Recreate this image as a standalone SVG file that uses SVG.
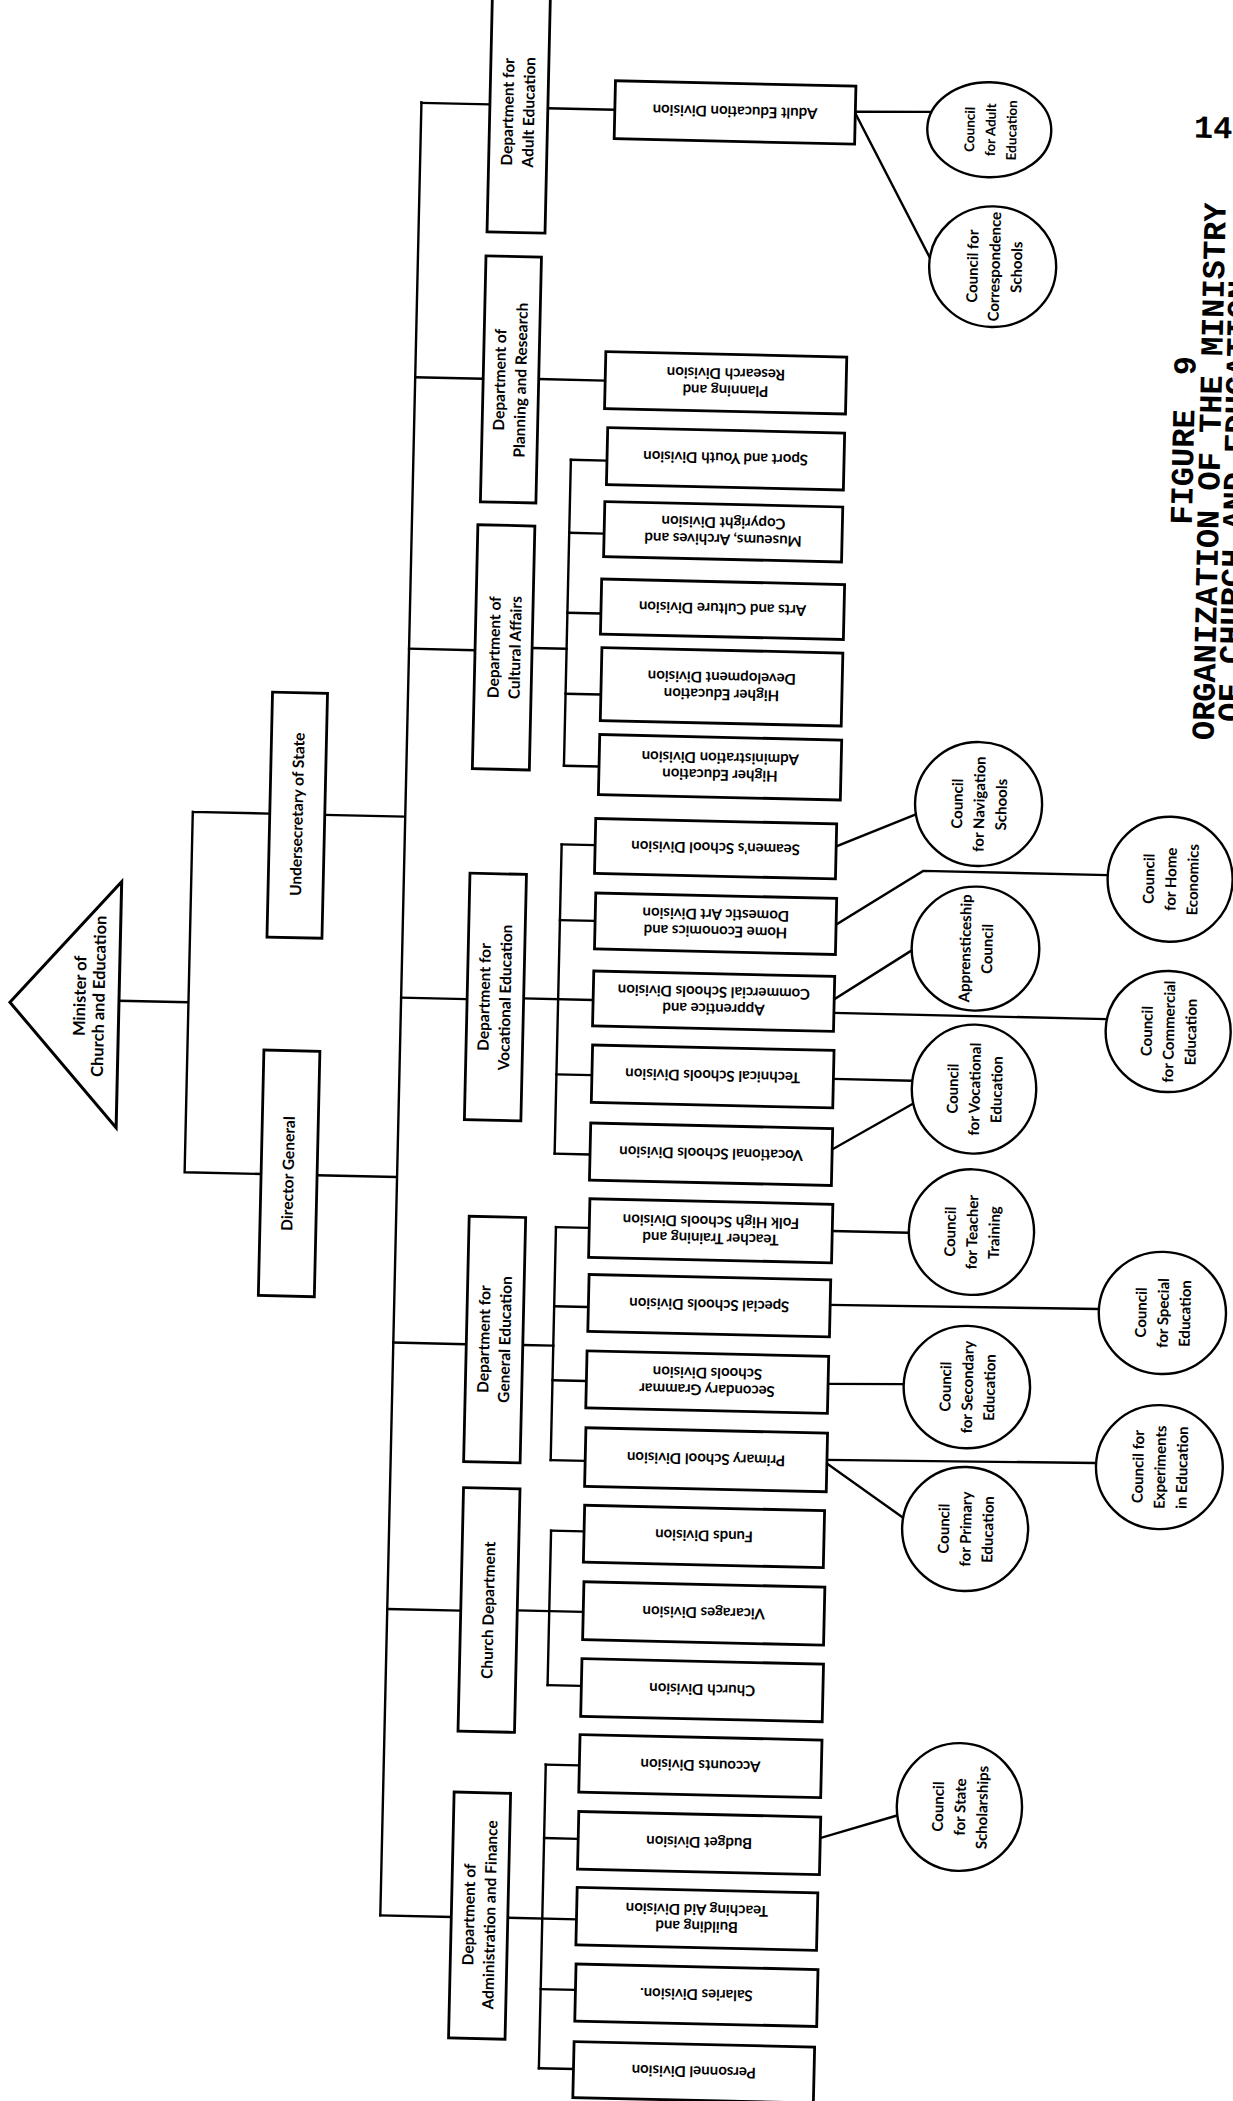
<svg xmlns="http://www.w3.org/2000/svg" width="1233" height="2101" viewBox="0 0 1233 2101">
<style>
.box{fill:#fff;stroke:#000;stroke-width:2.8}
.ell{fill:#fff;stroke:#000;stroke-width:2.4}
.ln{fill:none;stroke:#000;stroke-width:2.4;stroke-linecap:square;stroke-linejoin:miter}
.t{font-family:Lato,"Open Sans","DejaVu Sans",sans-serif;font-weight:700;fill:#000;text-anchor:middle;dominant-baseline:central}
.dp{font-size:15.5px}
.dv{font-size:15px}
.cc{font-size:15px}
.ca{font-size:13.5px}
.mn{font-size:16.5px}
.tt{font-family:"Liberation Mono","DejaVu Sans Mono",monospace;font-weight:700;font-size:32px;fill:#000;text-anchor:middle}
</style>
<rect width="1233" height="2101" fill="#fff"/>
<g transform="rotate(1.3 616 1050)">
<g id="connectors">
<path class="ln" d="M118,1012H187.5 M187.5,821.5V1182 M187.5,821.5H264.5 M187.5,1182H264 M319.5,821.5H400 M320,1182H400 M400,107V1920.5"/>
<path class="ln" d="M400,107.5H468.5 M400,382H468 M400,653.5H466 M400,1002.5H465.5 M400,1347.5H473 M400,1614H473.5 M400,1920.5H471"/>
<path class="ln" d="M526.5,110H593.5 M523.5,381H590 M523,650H557.5 M522.5,1000.5H592 M529.5,1347H560 M530,1612.5H596 M527.5,1920H596.2"/>
<path class="ln" d="M557.5,461V767 M557,845.7V1155 M560,1228.4V1461.5 M562,1532V1686.5 M562,1766V2069.7"/>
<path class="ln" d="M557.5,461H593.6 M557.5,534H592.4 M557.5,614H591 M557.5,695H592.8 M557.5,767H592.6 M557,845.7H590.5 M557,921.4H592.2 M557,1075.7H592.5 M557,1155H592.4 M560,1228.4H593.3 M560,1307.6H594.2 M560,1381.6H593.9 M560,1461.5H594.5 M562,1532H595 M562,1686.5H595.8 M562,1766H595.6 M562,1839.5H596.1 M562,1990.6H596.8 M562,2069.7H596.6"/>
<path class="ln" d="M834,106.4L910,105 M834,108L911,249.4 M831.5,841.4L910.4,807.6 M833.3,919.6L919,864H1104 M833,994.3L909.4,943.7 M833,1008H1106 M834,1074H913 M834.4,1144.5L914,1097 M836.3,1226H913 M835.9,1300L1104.6,1298 M835.6,1379L911.2,1377.5 M836.2,1455L1105.3,1452 M836.2,1458.7L912.6,1510.4 M838,1833.2L914,1809"/>
</g>

<g id="minister">
<polygon points="9,1016 118,893 118,1139" fill="#fff" stroke="#000" stroke-width="3" stroke-linejoin="miter"/>
<g transform="translate(88,1008) rotate(-90)"><text class="t mn" y="-9.5">Minister of</text><text class="t mn" y="9.5">Church and Education</text></g>
</g>
<g id="undersecretary"><rect class="box" x="264.5" y="700" width="55" height="245"/><g transform="translate(291.5,821.5) rotate(-90)"><text class="t dp">Undersecretary of State</text></g></g>
<g id="director-general"><rect class="box" x="264" y="1058" width="56" height="245.5"/><g transform="translate(290.5,1181) rotate(-90)"><text class="t dp">Director General</text></g></g>

<g id="dept-adult"><rect class="box" x="468.5" y="-30" width="58" height="265"/><g transform="translate(496.5,114.5) rotate(-90)"><text class="t dp" y="-10.5">Department for</text><text class="t dp" y="10.5">Adult Education</text></g></g>
<g id="dept-planning"><rect class="box" x="468" y="259" width="55.5" height="246"/><g transform="translate(494.5,382.5) rotate(-90)"><text class="t dp" y="-10.5">Department of</text><text class="t dp" y="10.5">Planning and Research</text></g></g>
<g id="dept-cultural"><rect class="box" x="466" y="528" width="57" height="244"/><g transform="translate(495,650) rotate(-90)"><text class="t dp" y="-10.5">Department of</text><text class="t dp" y="10.5">Cultural Affairs</text></g></g>
<g id="dept-vocational"><rect class="box" x="466" y="876.5" width="56.5" height="246.5"/><g transform="translate(493,1000) rotate(-90)"><text class="t dp" y="-10.5">Department for</text><text class="t dp" y="10.5">Vocational Education</text></g></g>
<g id="dept-general"><rect class="box" x="473" y="1219.5" width="56.5" height="245.5"/><g transform="translate(500.5,1342) rotate(-90)"><text class="t dp" y="-10.5">Department for</text><text class="t dp" y="10.5">General Education</text></g></g>
<g id="dept-church"><rect class="box" x="473.5" y="1491" width="56.5" height="243.5"/><g transform="translate(500.5,1613) rotate(-90)"><text class="t dp">Church Department</text></g></g>
<g id="dept-admin"><rect class="box" x="471" y="1795.5" width="56.5" height="246"/><g transform="translate(498.5,1917.5) rotate(-90)"><text class="t dp" y="-10.5">Department of</text><text class="t dp" y="10.5">Administration and Finance</text></g></g>

<g id="div-adult"><rect class="box" x="593.5" y="81" width="240.5" height="58"/><g transform="translate(713.7,110) rotate(180)"><text class="t dv">Adult Education Division</text></g></g>
<g id="div-planning"><rect class="box" x="590" y="352" width="241" height="57"/><g transform="translate(710.5,380.5) rotate(180)"><text class="t dv" y="-8.5">Planning and</text><text class="t dv" y="8.5">Research Division</text></g></g>
<g id="div-sport"><rect class="box" x="593.6" y="428" width="237" height="57"/><g transform="translate(712.1,456.5) rotate(180)"><text class="t dv">Sport and Youth Division</text></g></g>
<g id="div-museums"><rect class="box" x="592.4" y="502" width="238" height="55"/><g transform="translate(711.4,529.5) rotate(180)"><text class="t dv" y="-8.5">Museums, Archives and</text><text class="t dv" y="8.5">Copyright Division</text></g></g>
<g id="div-arts"><rect class="box" x="591" y="579.5" width="243" height="55"/><g transform="translate(712.5,607) rotate(180)"><text class="t dv">Arts and Culture Division</text></g></g>
<g id="div-hed"><rect class="box" x="592.8" y="648" width="241" height="73"/><g transform="translate(713.3,684.5) rotate(180)"><text class="t dv" y="-8.5">Higher Education</text><text class="t dv" y="8.5">Development Division</text></g></g>
<g id="div-hea"><rect class="box" x="592.6" y="735" width="242" height="60"/><g transform="translate(713.6,765) rotate(180)"><text class="t dv" y="-8.5">Higher Education</text><text class="t dv" y="8.5">Administration Division</text></g></g>
<g id="div-seamen"><rect class="box" x="590.5" y="819" width="241" height="55"/><g transform="translate(711,846.5) rotate(180)"><text class="t dv">Seamen's School Division</text></g></g>
<g id="div-home"><rect class="box" x="592.2" y="893.5" width="241" height="56"/><g transform="translate(712.7,921.5) rotate(180)"><text class="t dv" y="-8.5">Home Economics and</text><text class="t dv" y="8.5">Domestic Art Division</text></g></g>
<g id="div-apprentice"><rect class="box" x="592" y="971.5" width="241" height="55"/><g transform="translate(712.5,999) rotate(180)"><text class="t dv" y="-8.5">Apprentice and</text><text class="t dv" y="8.5">Commercial Schools Division</text></g></g>
<g id="div-technical"><rect class="box" x="592.5" y="1045.5" width="241.5" height="57.5"/><g transform="translate(713.2,1074.2) rotate(180)"><text class="t dv">Technical Schools Division</text></g></g>
<g id="div-vocational"><rect class="box" x="592.4" y="1123.6" width="242" height="57"/><g transform="translate(713.4,1152.1) rotate(180)"><text class="t dv">Vocational Schools Division</text></g></g>
<g id="div-folk"><rect class="box" x="593.3" y="1199.3" width="243" height="58.6"/><g transform="translate(714.8,1228.6) rotate(180)"><text class="t dv" y="-8.5">Teacher Training and</text><text class="t dv" y="8.5">Folk High Schools Division</text></g></g>
<g id="div-special"><rect class="box" x="594.2" y="1275" width="241.7" height="57"/><g transform="translate(715,1303.5) rotate(180)"><text class="t dv">Special Schools Division</text></g></g>
<g id="div-secondary"><rect class="box" x="593.9" y="1351.5" width="241.7" height="57"/><g transform="translate(714.7,1380) rotate(180)"><text class="t dv" y="-8.5">Secondary Grammar</text><text class="t dv" y="8.5">Schools Division</text></g></g>
<g id="div-primary"><rect class="box" x="594.5" y="1428.3" width="241.7" height="58.6"/><g transform="translate(715.3,1457.6) rotate(180)"><text class="t dv">Primary School Division</text></g></g>
<g id="div-funds"><rect class="box" x="595" y="1505.8" width="240" height="57"/><g transform="translate(715,1534.3) rotate(180)"><text class="t dv">Funds Division</text></g></g>
<g id="div-vicarages"><rect class="box" x="596" y="1582.3" width="241" height="58"/><g transform="translate(716.5,1611.3) rotate(180)"><text class="t dv">Vicarages Division</text></g></g>
<g id="div-church"><rect class="box" x="595.8" y="1659.3" width="241.6" height="57.6"/><g transform="translate(716.6,1688.1) rotate(180)"><text class="t dv">Church Division</text></g></g>
<g id="div-accounts"><rect class="box" x="595.6" y="1735.2" width="242" height="57.6"/><g transform="translate(716.6,1764) rotate(180)"><text class="t dv">Accounts Division</text></g></g>
<g id="div-budget"><rect class="box" x="596.1" y="1812.2" width="242" height="57.6"/><g transform="translate(717.1,1841) rotate(180)"><text class="t dv">Budget Division</text></g></g>
<g id="div-building"><rect class="box" x="596.2" y="1888" width="240.7" height="57.6"/><g transform="translate(716.5,1916.8) rotate(180)"><text class="t dv" y="-8.5">Building and</text><text class="t dv" y="8.5">Teaching Aid Division</text></g></g>
<g id="div-salaries"><rect class="box" x="596.8" y="1964.7" width="242" height="57"/><g transform="translate(717.8,1993.2) rotate(180)"><text class="t dv">Salaries Division.</text></g></g>
<g id="div-personnel"><rect class="box" x="596.6" y="2042.3" width="240.6" height="56"/><g transform="translate(716.9,2070.3) rotate(180)"><text class="t dv">Personnel Division</text></g></g>

<g id="c-adult"><ellipse class="ell" cx="968.3" cy="121.5" rx="62" ry="47.5"/><g transform="translate(969.5,121.5) rotate(-90)"><text class="t ca" y="-21">Council</text><text class="t ca">for Adult</text><text class="t ca" y="21">Education</text></g></g>
<g id="c-correspondence"><ellipse class="ell" cx="974.8" cy="258.3" rx="63.5" ry="60.3"/><g transform="translate(976,258.3) rotate(-90)"><text class="t cc" y="-22">Council for</text><text class="t cc">Correspondence</text><text class="t cc" y="22">Schools</text></g></g>
<g id="c-navigation"><ellipse class="ell" cx="972.9" cy="795.9" rx="63.5" ry="62"/><g transform="translate(972.9,795.9) rotate(-90)"><text class="t cc" y="-22">Council</text><text class="t cc">for Navigation</text><text class="t cc" y="22">Schools</text></g></g>
<g id="c-home"><ellipse class="ell" cx="1166.1" cy="866.7" rx="62.5" ry="62.5"/><g transform="translate(1166.1,866.7) rotate(-90)"><text class="t cc" y="-22">Council</text><text class="t cc">for Home</text><text class="t cc" y="22">Economics</text></g></g>
<g id="c-apprenticeship"><ellipse class="ell" cx="973.1" cy="940.5" rx="63.8" ry="62"/><g transform="translate(973.1,940.5) rotate(-90)"><text class="t cc" y="-11">Apprensticeship</text><text class="t cc" y="11">Council</text></g></g>
<g id="c-commercial"><ellipse class="ell" cx="1167.6" cy="1019" rx="62.5" ry="60.5"/><g transform="translate(1167.6,1019) rotate(-90)"><text class="t cc" y="-22">Council</text><text class="t cc">for Commercial</text><text class="t cc" y="22">Education</text></g></g>
<g id="c-vocational"><ellipse class="ell" cx="974.8" cy="1081" rx="62.2" ry="64.5"/><g transform="translate(974.8,1081) rotate(-90)"><text class="t cc" y="-22">Council</text><text class="t cc">for Vocational</text><text class="t cc" y="22">Education</text></g></g>
<g id="c-teacher"><ellipse class="ell" cx="975.5" cy="1224" rx="62.6" ry="62.8"/><g transform="translate(975.5,1224) rotate(-90)"><text class="t cc" y="-22">Council</text><text class="t cc">for Teacher</text><text class="t cc" y="22">Training</text></g></g>
<g id="c-special"><ellipse class="ell" cx="1168.2" cy="1300.5" rx="63.6" ry="61.1"/><g transform="translate(1168.2,1300.5) rotate(-90)"><text class="t cc" y="-22">Council</text><text class="t cc">for Special</text><text class="t cc" y="22">Education</text></g></g>
<g id="c-secondary"><ellipse class="ell" cx="974.4" cy="1379" rx="63.2" ry="61.2"/><g transform="translate(974.4,1379) rotate(-90)"><text class="t cc" y="-22">Council</text><text class="t cc">for Secondary</text><text class="t cc" y="22">Education</text></g></g>
<g id="c-experiments"><ellipse class="ell" cx="1168.7" cy="1454.7" rx="63.4" ry="62"/><g transform="translate(1168.7,1454.7) rotate(-90)"><text class="t cc" y="-22">Council for</text><text class="t cc">Experiments</text><text class="t cc" y="22">in Education</text></g></g>
<g id="c-primary"><ellipse class="ell" cx="975.9" cy="1521" rx="63" ry="62"/><g transform="translate(975.9,1521) rotate(-90)"><text class="t cc" y="-22">Council</text><text class="t cc">for Primary</text><text class="t cc" y="22">Education</text></g></g>
<g id="c-scholarships"><ellipse class="ell" cx="976.5" cy="1799" rx="62.6" ry="63.9"/><g transform="translate(976.5,1799) rotate(-90)"><text class="t cc" y="-22">Council</text><text class="t cc">for State</text><text class="t cc" y="22">Scholarships</text></g></g>

<g id="title">
<text class="tt" x="1173" y="124.6" style="text-anchor:start">14</text>
<g transform="translate(1169.2,427.6) rotate(-90)"><text class="tt" y="10.5" word-spacing="15">FIGURE 9</text></g>
<g transform="translate(1195.9,458) rotate(-90)"><text class="tt" y="10.5">ORGANIZATION OF THE MINISTRY</text></g>
<g transform="translate(1221.5,487) rotate(-90)"><text class="tt" y="10.5">OF CHURCH AND EDUCATION</text></g>
</g>
</g>
</svg>
